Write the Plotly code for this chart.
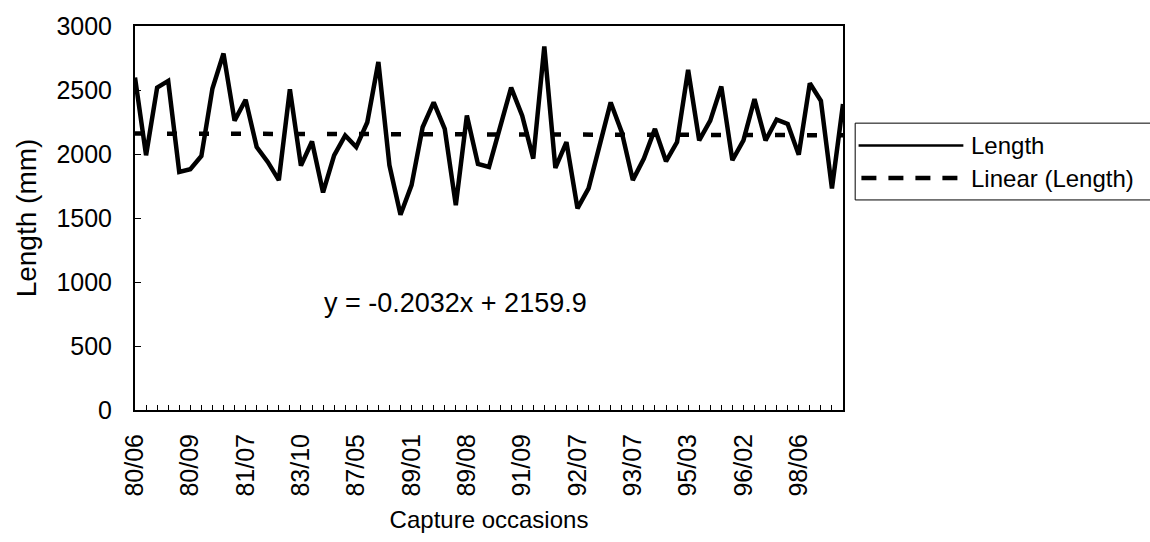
import plotly.graph_objects as go

# Occasion index (categories) and measured lengths (mm)
occasions = list(range(1, 66))
lengths = [2597, 1990, 2519, 2571, 1860, 1881, 1984, 2512, 2785, 2261,
           2424, 2054, 1938, 1796, 2506, 1909, 2098, 1700, 1990, 2145,
           2054, 2248, 2719, 1912, 1525, 1757, 2209, 2403, 2196, 1600,
           2300, 1922, 1899, 2209, 2519, 2300, 1964, 2840, 1891, 2093,
           1575, 1731, 2067, 2403, 2171, 1796, 1964, 2196, 1943, 2093,
           2657, 2106, 2261, 2527, 1951, 2106, 2429, 2106, 2269, 2235,
           1995, 2553, 2416, 1731, 2390]

# Tick labels shown every 5th occasion
tick_labels = ["80/06", "80/09", "81/07", "83/10", "87/05", "89/01", "89/08",
               "91/09", "92/07", "93/07", "95/03", "96/02", "98/06"]
label_step = 5

# Linear trendline coefficients as printed on the chart
slope = -0.2032
intercept = 2159.9
trend_x = [occasions[0], occasions[-1]]
trend_y = [slope * v + intercept for v in trend_x]

FONT = "Liberation Sans, Arial, sans-serif"

ticktext = []
for i, o in enumerate(occasions):
    if i % label_step == 0 and i // label_step < len(tick_labels):
        ticktext.append(tick_labels[i // label_step])
    else:
        ticktext.append("")

fig = go.Figure()
fig.add_trace(go.Scatter(x=occasions, y=lengths, mode="lines", name="Length",
                         line=dict(color="black", width=4.5), showlegend=False))
fig.add_trace(go.Scatter(x=trend_x, y=trend_y, mode="lines", name="Linear (Length)",
                         line=dict(color="black", width=4.5, dash="10px,22px"),
                         showlegend=False))

fig.update_layout(
    width=1150, height=542,
    margin=dict(l=135, r=307, t=23, b=132),
    paper_bgcolor="white", plot_bgcolor="white",
    font=dict(family=FONT, size=24, color="black"),
    xaxis=dict(range=[occasions[0], occasions[-1]], tickmode="array",
               tickvals=occasions, ticktext=ticktext, tickangle=-90,
               ticks="inside", ticklen=5, tickcolor="black", tickwidth=1,
               tickfont=dict(size=25),
               showline=True, linecolor="black", linewidth=2, mirror=True,
               showgrid=False, zeroline=False, ticklabelstandoff=12,
               title=dict(text="Capture occasions", standoff=16,
                          font=dict(size=24))),
    yaxis=dict(range=[0, 3000], dtick=500, ticks="inside", ticklen=6,
               tickcolor="black", tickwidth=1, tickfont=dict(size=25),
               showline=True, linecolor="black", linewidth=2, mirror=True,
               showgrid=False, zeroline=False, ticklabelstandoff=16,
               title=dict(text="Length (mm)", standoff=12, font=dict(size=28))),
)

fig.add_annotation(text="y = -0.2032x + 2159.9", xref="paper", yref="paper",
                   x=0.452, y=0.279, xanchor="center", yanchor="middle",
                   showarrow=False,
                   font=dict(family=FONT, size=27, color="black"))

# Manual legend (box, samples, labels)
fig.add_shape(type="rect", xref="paper", yref="paper",
              x0=1.0172, x1=1.45, y0=0.547, y1=0.747,
              line=dict(color="black", width=1), fillcolor="white")
fig.add_shape(type="line", xref="paper", yref="paper",
              x0=1.022, x1=1.17, y0=0.689, y1=0.689,
              line=dict(color="black", width=2.5))
fig.add_shape(type="line", xref="paper", yref="paper",
              x0=1.026, x1=1.17, y0=0.604, y1=0.604,
              line=dict(color="black", width=4.5, dash="15px,12px"))
fig.add_annotation(text="Length", xref="paper", yref="paper", x=1.178, y=0.689,
                   xanchor="left", yanchor="middle", showarrow=False,
                   font=dict(family=FONT, size=24, color="black"))
fig.add_annotation(text="Linear (Length)", xref="paper", yref="paper", x=1.178, y=0.604,
                   xanchor="left", yanchor="middle", showarrow=False,
                   font=dict(family=FONT, size=24, color="black"))

fig.write_html("out.html")
